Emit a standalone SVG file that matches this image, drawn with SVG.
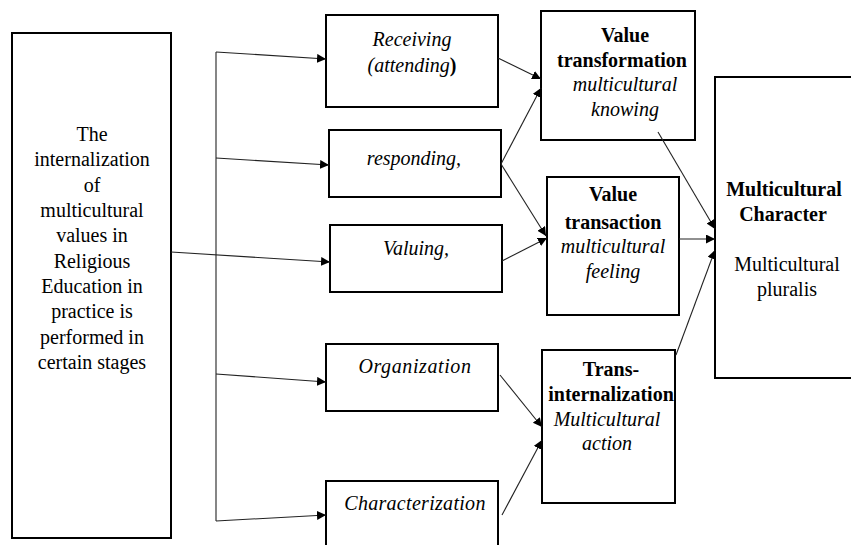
<svg xmlns="http://www.w3.org/2000/svg" width="851" height="545" viewBox="0 0 851 545">
<style>
.box{fill:#fff;stroke:#000;stroke-width:2}
.t{font-family:"Liberation Serif","Times New Roman",serif;font-size:20px;fill:#000;text-anchor:middle}
.i{font-style:italic}
.b{font-weight:bold}
.c{fill:none;stroke:#222;stroke-width:1.1}
</style>
<defs>
<marker id="ah" markerUnits="userSpaceOnUse" markerWidth="10" markerHeight="10" refX="9" refY="4.5" orient="auto">
<path d="M0,0 L9,4.5 L0,9 z" fill="#000"/>
</marker>
</defs>
<rect width="851" height="545" fill="#fff"/>
<g id="source">
<rect class="box" x="12" y="33" width="159" height="505"/>
<text class="t" x="92" y="141">The</text>
<text class="t" x="92" y="166">internalization</text>
<text class="t" x="92" y="191.5">of</text>
<text class="t" x="92" y="217">multicultural</text>
<text class="t" x="92" y="242">values in</text>
<text class="t" x="92" y="267.5">Religious</text>
<text class="t" x="92" y="293">Education in</text>
<text class="t" x="92" y="318">practice is</text>
<text class="t" x="92" y="343.5">performed in</text>
<text class="t" x="92" y="369">certain stages</text>
</g>
<g id="receiving">
<rect class="box" x="326" y="15" width="172" height="92"/>
<text class="t i" x="412" y="46">Receiving</text>
<text class="t i" x="412" y="72">(attending<tspan font-style="normal" font-weight="bold">)</tspan></text>
</g>
<g id="responding">
<rect class="box" x="329" y="130" width="172" height="67"/>
<text class="t i" x="414" y="165">responding,</text>
</g>
<g id="valuing">
<rect class="box" x="330" y="225" width="172" height="67"/>
<text class="t i" x="416" y="255">Valuing,</text>
</g>
<g id="organization">
<rect class="box" x="326" y="344" width="172" height="67"/>
<text class="t i" x="415" y="373" letter-spacing="0.6">Organization</text>
</g>
<g id="characterization">
<rect class="box" x="326" y="481" width="172" height="80"/>
<text class="t i" x="415" y="510" letter-spacing="0.3">Characterization</text>
</g>
<g id="value-transformation">
<rect class="box" x="541" y="11" width="154" height="129"/>
<text class="t b" x="625" y="42">Value</text>
<text class="t b" x="622" y="67">transformation</text>
<text class="t i" x="625" y="91">multicultural</text>
<text class="t i" x="625" y="115.5">knowing</text>
</g>
<g id="value-transaction">
<rect class="box" x="547" y="177" width="132" height="138"/>
<text class="t b" x="613" y="201">Value</text>
<text class="t b" x="613" y="229">transaction</text>
<text class="t i" x="613" y="253">multicultural</text>
<text class="t i" x="613" y="278">feeling</text>
</g>
<g id="trans-internalization">
<rect class="box" x="542" y="350" width="133" height="153"/>
<text class="t b" x="611" y="376">Trans-</text>
<text class="t b" x="611" y="401">internalization</text>
<text class="t i" x="607" y="426">Multicultural</text>
<text class="t i" x="607" y="450">action</text>
</g>
<g id="multicultural-character">
<rect class="box" x="715" y="77" width="145" height="301"/>
<text class="t b" x="784" y="196">Multicultural</text>
<text class="t b" x="783" y="221">Character</text>
<text class="t" x="787" y="271">Multicultural</text>
<text class="t" x="787" y="296">pluralis</text>
</g>
<g id="connectors">
<path class="c" d="M216,52 L216,521"/>
<path class="c" d="M216,52 L326,59" marker-end="url(#ah)"/>
<path class="c" d="M216,158 L329,165" marker-end="url(#ah)"/>
<path class="c" d="M171,252 L330,262" marker-end="url(#ah)"/>
<path class="c" d="M216,374 L326,382" marker-end="url(#ah)"/>
<path class="c" d="M216,521 L326,515" marker-end="url(#ah)"/>
<path class="c" d="M498,58 L541,79" marker-end="url(#ah)"/>
<path class="c" d="M501,164 L541,88" marker-end="url(#ah)"/>
<path class="c" d="M501,164 L546,236" marker-end="url(#ah)"/>
<path class="c" d="M502,261 L547,238" marker-end="url(#ah)"/>
<path class="c" d="M658,132 L715,229" marker-end="url(#ah)"/>
<path class="c" d="M679,239 L715,239" marker-end="url(#ah)"/>
<path class="c" d="M676,355 L715,250" marker-end="url(#ah)"/>
<path class="c" d="M500,375 L542,427" marker-end="url(#ah)"/>
<path class="c" d="M502,515 L542,440" marker-end="url(#ah)"/>
</g>
</svg>
